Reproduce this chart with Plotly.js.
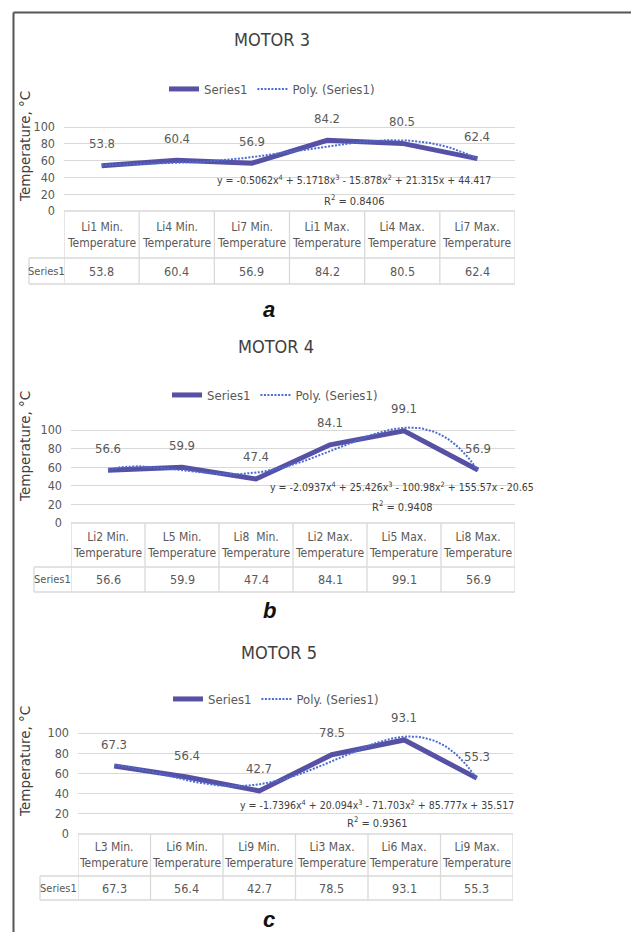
<!DOCTYPE html>
<html>
<head>
<meta charset="utf-8">
<script src="https://cdn.plot.ly/plotly-3.0.1.min.js"></script>
<style>html,body{margin:0;padding:0;background:#fff;}#chart{width:631px;height:932px;}</style>
</head>
<body>
<div id="chart"></div>
<script>
// ---- data ----
const motor3Categories = ['Li1 Min. Temperature','Li4 Min. Temperature','Li7 Min. Temperature','Li1 Max. Temperature','Li4 Max. Temperature','Li7 Max. Temperature'];
const motor4Categories = ['Li2 Min. Temperature','L5 Min. Temperature','Li8  Min. Temperature','Li2 Max. Temperature','Li5 Max. Temperature','Li8 Max. Temperature'];
const motor5Categories = ['L3 Min. Temperature','Li6 Min. Temperature','Li9 Min. Temperature','Li3 Max. Temperature','Li6 Max. Temperature','Li9 Max. Temperature'];
const motor3Values = [53.8, 60.4, 56.9, 84.2, 80.5, 62.4];
const motor4Values = [56.6, 59.9, 47.4, 84.1, 99.1, 56.9];
const motor5Values = [67.3, 56.4, 42.7, 78.5, 93.1, 55.3];
// polynomial trendline coefficients (x^4, x^3, x^2, x, 1) as printed
const motor3Coef = [-0.5062, 5.1718, -15.878, 21.315, 44.417];
const motor4Coef = [-2.0937, 25.426, -100.98, 155.57, -20.65];
const motor5Coef = [-1.7396, 20.094, -71.703, 85.777, 35.517];
const motorR2 = ['0.8406', '0.9408', '0.9361'];
const motorTitles = ['MOTOR 3', 'MOTOR 4', 'MOTOR 5'];
const panelLetters = ['a', 'b', 'c'];
const yTicks = [0, 20, 40, 60, 80, 100];
const seriesName = 'Series1';
const trendName = 'Poly. (Series1)';
const yTitle = 'Temperature, °C';

// ---- layout geometry (pixels) ----
const W = 631, H = 932;
const PX = p => p / W;
const PY = p => 1 - p / H;
const geom = [
  {left:64, right:515, y0:211, y100:127, hdr:258, bot:284, serL:29, tX:272, tY:39, lgX:272, lgY:89, eqX:354, eqY:179, r2Y:200, letY:309, ytY:147},
  {left:71, right:515, y0:523, y100:430, hdr:567, bot:592, serL:34, tX:276, tY:346, lgX:275, lgY:395, eqX:402, eqY:487, r2Y:506, letY:610, ytY:447},
  {left:78, right:513, y0:834, y100:733, hdr:876, bot:900, serL:40, tX:279, tY:652, lgX:276, lgY:699, eqX:377, eqY:804, r2Y:822, letY:919, ytY:762}
];
const panels = [
  {cats: motor3Categories, vals: motor3Values, coef: motor3Coef},
  {cats: motor4Categories, vals: motor4Values, coef: motor4Coef},
  {cats: motor5Categories, vals: motor5Values, coef: motor5Coef}
];

const NARROW = '"Liberation Sans Narrow", "Arial Narrow", "DejaVu Sans Condensed", "Liberation Sans", Arial, sans-serif';
const TXT = '#595959';
const GRID = '#d9d9d9';
const YMAX = 108;

function poly(c, x) { return c[0]*x**4 + c[1]*x**3 + c[2]*x**2 + c[3]*x + c[4]; }
function fmtTerm(v, first) {
  const s = v < 0 ? '-' : '+';
  const a = Math.abs(v);
  if (first) return (v < 0 ? '-' : '') + a;
  return ' ' + s + ' ' + a;
}
function eqText(c) {
  return 'y = ' + fmtTerm(c[0], true) + 'x<sup>4</sup>' + fmtTerm(c[1]) + 'x<sup>3</sup>' +
    fmtTerm(c[2]) + 'x<sup>2</sup>' + fmtTerm(c[3]) + 'x' + fmtTerm(c[4]);
}

const data = [];
const annotations = [];
const shapes = [];
const layout = {
  width: W, height: H, margin: {l:0, r:0, t:0, b:0},
  paper_bgcolor: '#fff', plot_bgcolor: 'rgba(0,0,0,0)',
  showlegend: true, annotations, shapes
};

panels.forEach((p, k) => {
  const g = geom[k];
  const sfx = k === 0 ? '' : String(k + 1);
  const xa = 'x' + sfx, ya = 'y' + sfx;
  const lg = 'legend' + sfx;
  const scale = (g.y0 - g.y100) / 100;
  const topPx = g.y0 - YMAX * scale;
  const xs = p.vals.map((_, i) => i + 1);

  data.push({
    type: 'scatter', mode: 'lines', x: xs, y: p.vals, xaxis: xa, yaxis: ya,
    name: seriesName, legend: lg,
    line: {color: '#5651a4', width: 5}, hoverinfo: 'skip'
  });
  const tx = [], ty = [];
  for (let x = 1; x <= 6.0001; x += 0.05) { tx.push(x); ty.push(poly(p.coef, x)); }
  data.push({
    type: 'scatter', mode: 'lines', x: tx, y: ty, xaxis: xa, yaxis: ya,
    name: trendName, legend: lg,
    line: {color: '#4a6cd4', width: 2, dash: '2px,1.5px'}, hoverinfo: 'skip'
  });

  layout['xaxis' + sfx] = {
    domain: [PX(g.left), PX(g.right)], range: [0.5, 6.5], anchor: ya,
    showgrid: false, zeroline: false, showticklabels: false, showline: false, fixedrange: true
  };
  layout['yaxis' + sfx] = {
    domain: [PY(g.y0), PY(topPx)], range: [0, YMAX], anchor: xa,
    tickvals: yTicks, ticktext: yTicks.map(String), showgrid: true, gridcolor: GRID, gridwidth: 1,
    zeroline: false, showline: false, ticks: '', ticklabelstandoff: 8,
    tickfont: {family: NARROW, size: 12.5, color: TXT}, fixedrange: true
  };
  layout[lg] = {
    x: PX(g.lgX), y: PY(g.lgY), xanchor: 'center', yanchor: 'middle', xref: 'paper', yref: 'paper',
    orientation: 'h', bgcolor: 'rgba(0,0,0,0)', itemwidth: 30,
    font: {family: NARROW, size: 13, color: TXT}
  };

  annotations.push({xref:'paper', yref:'paper', x:PX(g.tX), y:PY(g.tY), text: motorTitles[k], showarrow:false,
    xanchor:'center', yanchor:'middle', font:{family:NARROW, size:18, color:'#404040'}});
  annotations.push({xref:'paper', yref:'paper', x:PX(25), y:PY(g.ytY), text: yTitle, showarrow:false, textangle:-90,
    xanchor:'center', yanchor:'middle', font:{family:'"DejaVu Sans", Verdana, sans-serif', size:13.5, color:'#404040'}});
  p.vals.forEach((v, i) => {
    annotations.push({xref:xa, yref:ya, x:i+1, y:v, text:String(v), showarrow:false, yshift:22,
      xanchor:'center', yanchor:'middle', font:{family:NARROW, size:13, color:TXT}});
  });
  annotations.push({xref:'paper', yref:'paper', x:PX(g.eqX), y:PY(g.eqY), text: eqText(p.coef), showarrow:false,
    xanchor:'center', yanchor:'middle', font:{family:NARROW, size:10.5, color:'#404040'}});
  annotations.push({xref:'paper', yref:'paper', x:PX(g.eqX), y:PY(g.r2Y), text: 'R<sup>2</sup> = ' + motorR2[k], showarrow:false,
    xanchor:'center', yanchor:'middle', font:{family:NARROW, size:11, color:'#404040'}});
  p.cats.forEach((c, i) => {
    annotations.push({xref:xa, yref:'paper', x:i+1, y:PY((g.y0 + g.hdr) / 2), text: c.replace(' Temperature', '<br>Temperature'),
      showarrow:false, xanchor:'center', yanchor:'middle', font:{family:NARROW, size:12, color:TXT}});
    annotations.push({xref:xa, yref:'paper', x:i+1, y:PY((g.hdr + g.bot) / 2), text: String(p.vals[i]),
      showarrow:false, xanchor:'center', yanchor:'middle', font:{family:NARROW, size:12.5, color:TXT}});
  });
  annotations.push({xref:'paper', yref:'paper', x:PX((g.serL + g.left) / 2), y:PY((g.hdr + g.bot) / 2), text: seriesName,
    showarrow:false, xanchor:'center', yanchor:'middle', font:{family:NARROW, size:11, color:TXT}});
  annotations.push({xref:'paper', yref:'paper', x:PX(269), y:PY(g.letY), text: '<b><i>' + panelLetters[k] + '</i></b>', showarrow:false,
    xanchor:'center', yanchor:'middle', font:{family:'"Liberation Sans", Arial, sans-serif', size:22, color:'#111'}});

  const ln = {color: GRID, width: 1.3};
  for (let i = 0; i <= 6; i++) {
    shapes.push({type:'line', xref:xa, yref:'paper', x0:i+0.5, x1:i+0.5, y0:PY(g.y0), y1:PY(g.bot), line:ln});
  }
  shapes.push({type:'line', xref:'paper', yref:'paper', x0:PX(g.left), x1:PX(g.right), y0:PY(g.y0), y1:PY(g.y0), line:ln});
  shapes.push({type:'line', xref:'paper', yref:'paper', x0:PX(g.serL), x1:PX(g.right), y0:PY(g.hdr), y1:PY(g.hdr), line:ln});
  shapes.push({type:'line', xref:'paper', yref:'paper', x0:PX(g.serL), x1:PX(g.right), y0:PY(g.bot), y1:PY(g.bot), line:ln});
  shapes.push({type:'line', xref:'paper', yref:'paper', x0:PX(g.serL), x1:PX(g.serL), y0:PY(g.hdr), y1:PY(g.bot), line:ln});
});

shapes.push({type:'line', xref:'paper', yref:'paper', x0:PX(13.5), x1:PX(13.5), y0:PY(12.5), y1:0, line:{color:'#555', width:2}});
shapes.push({type:'line', xref:'paper', yref:'paper', x0:PX(13.5), x1:1, y0:PY(12.5), y1:PY(12.5), line:{color:'#555', width:2}});

Plotly.newPlot('chart', data, layout, {displayModeBar: false, staticPlot: true});
</script>
</body>
</html>
